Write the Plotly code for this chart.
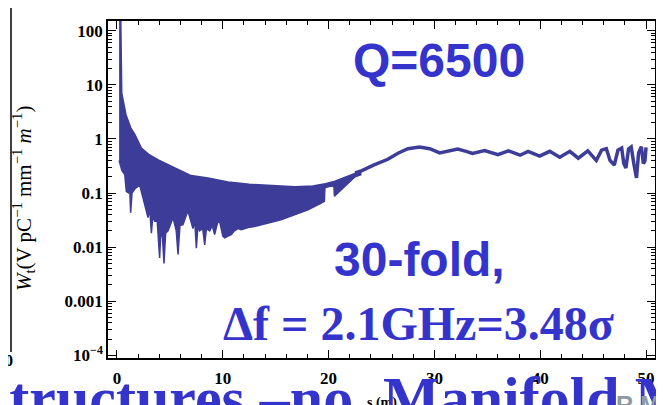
import plotly.graph_objects as go

# ---------------- data ----------------
# dense oscillating wake region: upper and lower edges of the filled band
band_upper_x = [0.2, 0.35, 0.45, 0.55, 0.85, 1.3, 1.7, 2.3, 3.0, 3.9, 5.5, 7.0, 8.6,
                10.5, 12.5, 15.2, 16.8, 18.5, 19.7, 20.6, 22.0, 23.1]
band_upper_y = [200, 200, 7.0, 5.6, 2.8, 1.6, 1.2, 0.68, 0.52, 0.41, 0.29, 0.21, 0.19,
                0.16, 0.145, 0.135, 0.13, 0.135, 0.148, 0.166, 0.21, 0.257]

band_lower_x = [0.2, 0.35, 0.47, 0.73, 0.88, 1.1, 1.22, 1.29, 1.36, 1.42, 1.7, 2.14, 2.46,
                2.93, 3.1, 3.25, 3.4, 3.56, 3.8, 4.03, 4.15, 4.3, 4.44, 4.6, 4.82, 5.3,
                5.6, 5.77, 5.95, 6.24, 6.7, 7.0, 7.18, 7.35, 7.5, 7.65, 7.8, 8.1, 8.29,
                8.45, 8.76, 9.0, 9.23, 9.5, 9.7, 10.0, 10.18, 10.5, 10.8, 11.1, 11.44,
                11.75, 12.4, 13.0, 13.6, 14.3, 15.5, 16.8, 18.05, 19.3, 19.6, 19.65,
                20.5, 20.55, 21.5, 22.5, 23.1]
band_lower_y = [0.4, 0.3, 0.26, 0.22, 0.107, 0.1, 0.1, 0.043, 0.1, 0.1, 0.12, 0.14, 0.081,
                0.035, 0.05, 0.018, 0.04, 0.030, 0.03, 0.0063, 0.02, 0.015, 0.005, 0.018,
                0.02, 0.035, 0.02, 0.0073, 0.025, 0.026, 0.047, 0.03, 0.022, 0.03, 0.0095,
                0.025, 0.02, 0.022, 0.011, 0.022, 0.02, 0.025, 0.017, 0.028, 0.030, 0.016,
                0.0148, 0.016, 0.017, 0.02, 0.022, 0.021, 0.023, 0.024, 0.026, 0.028,
                0.032, 0.040, 0.049, 0.065, 0.07, 0.125, 0.14, 0.087, 0.13, 0.2, 0.22]

# later, thin oscillating line
line_x = [22.5, 23.1, 24.3, 25.6, 26.6, 27.5, 28.6, 29.55, 30.5, 31.4, 32.2, 33.0, 33.6,
          34.75, 36.0, 37.0, 38.1, 38.85, 39.95, 40.9, 41.85, 42.8, 43.6, 44.5, 45.3,
          45.8, 46.25, 46.6, 47.0, 47.35, 47.7, 47.9, 48.1, 48.35, 48.6, 48.85, 49.1,
          49.3, 49.56, 49.75, 49.9, 50.0]
line_y = [0.235, 0.257, 0.33, 0.42, 0.55, 0.66, 0.71, 0.66, 0.55, 0.59, 0.65, 0.59, 0.54,
          0.61, 0.51, 0.60, 0.50, 0.59, 0.48, 0.59, 0.46, 0.59, 0.44, 0.60, 0.40,
          0.62, 0.66, 0.40, 0.33, 0.62, 0.68, 0.35, 0.29, 0.65, 0.71, 0.35, 0.19,
          0.55, 0.72, 0.35, 0.39, 0.70]

x_tick_vals = [0, 10, 20, 30, 40, 50]
y_tick_vals = [1e-4, 1e-3, 1e-2, 1e-1, 1, 10, 100]
y_tick_text = ["10<sup>\u22124</sup>", "0.001", "0.01", "0.1", "1", "10", "100"]

# ---------------- figure ----------------
W, H = 664, 405
L, R, T, B = 100, 647, 13, 350


def pxx(x):
    return (x - L) / (R - L)


def pyy(y):
    return (B - y) / (B - T)


wake_color = "#3D3D99"
blue = "#3434CC"

fig = go.Figure()
fig.add_trace(go.Scatter(x=band_upper_x, y=band_upper_y, mode="lines",
                         line=dict(color=wake_color, width=1.5), showlegend=False,
                         hoverinfo="skip"))
fig.add_trace(go.Scatter(x=band_lower_x, y=band_lower_y, mode="lines",
                         line=dict(color=wake_color, width=1.5), fill="tonexty",
                         fillcolor=wake_color, showlegend=False, hoverinfo="skip"))
fig.add_trace(go.Scatter(x=line_x, y=line_y, mode="lines",
                         line=dict(color=wake_color, width=3.5), showlegend=False,
                         hoverinfo="skip"))

minor_y = [k * 10 ** e for e in range(-4, 3) for k in range(2, 10)]

tick_font = dict(family="Liberation Serif", size=17, color="black", weight="bold")

fig.update_xaxes(range=[-0.85, 50.85], tickvals=x_tick_vals, ticks="inside", ticklen=8,
                 tickwidth=1.2, tickcolor="black",
                 minor=dict(dtick=2, tick0=0, ticks="inside", ticklen=4, tickcolor="black"),
                 showline=True, linecolor="black", linewidth=1.5, mirror="ticks",
                 showgrid=False, zeroline=False, tickfont=tick_font,
                 ticklabelstandoff=4)
fig.update_yaxes(type="log", range=[-4.05, 2.18], tickvals=y_tick_vals, ticktext=y_tick_text,
                 ticks="inside", ticklen=8, tickwidth=1.2, tickcolor="black",
                 minor=dict(tickmode="array", tickvals=minor_y, ticks="inside", ticklen=4,
                            tickcolor="black"),
                 showline=True, linecolor="black", linewidth=1.5, mirror="ticks",
                 showgrid=False, zeroline=False, tickfont=tick_font)

ann = []
# y axis title
ann.append(dict(text="<i>W</i><sub>t</sub>(V pC<sup>\u22121</sup> mm<sup>\u22121</sup> <i>m</i><sup>\u22121</sup>)",
                x=pxx(15), y=pyy(191), xref="paper", yref="paper", textangle=-90,
                showarrow=False, xanchor="center", yanchor="middle",
                font=dict(family="Liberation Serif", size=21, color="black")))
# x axis title (mostly hidden in the original)
ann.append(dict(text="s (m)", x=pxx(374), y=pyy(395), xref="paper", yref="paper",
                showarrow=False, xanchor="center", yanchor="middle",
                font=dict(family="Liberation Serif", size=14, color="black", weight="bold")))
# slide text
ann.append(dict(text="Q=6500", x=pxx(431), y=pyy(52), xref="paper", yref="paper",
                showarrow=False, xanchor="center", yanchor="middle",
                font=dict(family="Liberation Sans", size=48, color=blue, weight="bold")))
ann.append(dict(text="30-fold,", x=pxx(411), y=pyy(252), xref="paper", yref="paper",
                showarrow=False, xanchor="center", yanchor="middle",
                font=dict(family="Liberation Sans", size=48, color=blue, weight="bold")))
ann.append(dict(text="\u0394f = 2.1GHz=3.48\u03c3", x=pxx(410), y=pyy(315), xref="paper",
                yref="paper", showarrow=False, xanchor="center", yanchor="middle",
                font=dict(family="Liberation Serif", size=48, color=blue, weight="bold")))
ann.append(dict(text="Structures \u2013no", x=pxx(347), y=pyy(390), xref="paper", yref="paper",
                showarrow=False, xanchor="right", yanchor="middle",
                font=dict(family="Liberation Serif", size=60, color=blue, weight="bold")))
ann.append(dict(text="Manifold M", x=pxx(373), y=pyy(390), xref="paper", yref="paper",
                showarrow=False, xanchor="left", yanchor="middle",
                font=dict(family="Liberation Serif", size=60, color=blue, weight="bold")))
ann.append(dict(text="R.M", x=pxx(606), y=pyy(396), xref="paper", yref="paper",
                showarrow=False, xanchor="left", yanchor="middle",
                font=dict(family="Liberation Sans", size=24, color="#8C9BA3", weight="bold")))
# right axis label of the neighbouring scale
ann.append(dict(text="vf/v0", x=1.0, xshift=9, y=pyy(125), xref="paper", yref="paper",
                textangle=-90, showarrow=False, xanchor="center", yanchor="middle",
                font=dict(family="Liberation Serif", size=14, color="#A0602A", weight="bold")))
# neighbouring plot's bottom-left label
ann.append(dict(text="0", x=pxx(1), y=pyy(352), xref="paper", yref="paper",
                showarrow=False, xanchor="center", yanchor="middle",
                font=dict(family="Liberation Serif", size=16, color="black", weight="bold")))

shapes = [dict(type="line", xref="paper", yref="paper", x0=pxx(3), x1=pxx(3),
               y0=pyy(0), y1=pyy(344), line=dict(color="black", width=1.5))]

fig.update_layout(width=W, height=H, margin=dict(l=L, r=W - R, t=T, b=H - B),
                  paper_bgcolor="white", plot_bgcolor="white",
                  annotations=ann, shapes=shapes, showlegend=False)

fig.write_html("out.html")
